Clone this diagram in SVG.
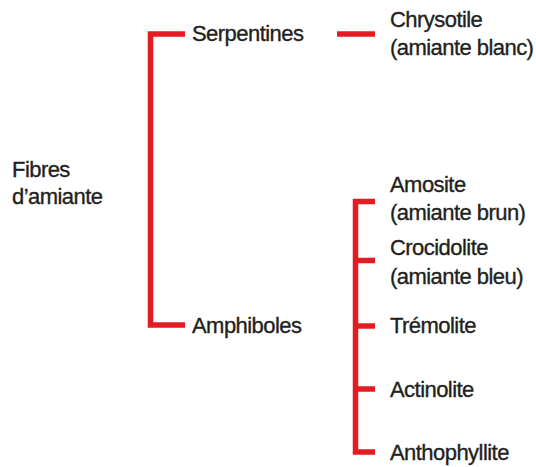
<svg xmlns="http://www.w3.org/2000/svg" width="536" height="467" viewBox="0 0 536 467">
<style>
.t{font-family:"Liberation Sans",Arial,sans-serif;font-size:22px;letter-spacing:-0.55px;fill:#231f20;stroke:#231f20;stroke-width:0.35px;}
.c{fill:none;stroke:#e31b23;stroke-width:5.5;stroke-linecap:butt;stroke-linejoin:miter;}
</style>
<rect width="536" height="467" fill="#ffffff"/>
<g id="connectors">
<path class="c" d="M185,34 H150.5 V325 H185"/>
<path class="c" d="M337,34 H375"/>
<path class="c" d="M375,201.5 H355.5 V452 H375"/>
<path class="c" d="M355.5,260.5 H375"/>
<path class="c" d="M355.5,326 H375"/>
<path class="c" d="M355.5,389 H375"/>
</g>
<g id="root"><text class="t" x="12" y="177">Fibres</text><text class="t" x="12" y="204">d’amiante</text></g>
<g id="serpentines"><text class="t" x="192" y="41">Serpentines</text></g>
<g id="amphiboles"><text class="t" x="192" y="333">Amphiboles</text></g>
<g id="chrysotile"><text class="t" x="390" y="27">Chrysotile</text><text class="t" x="390" y="55">(amiante blanc)</text></g>
<g id="amosite"><text class="t" x="390" y="192">Amosite</text><text class="t" x="390" y="220">(amiante brun)</text></g>
<g id="crocidolite"><text class="t" x="390" y="255">Crocidolite</text><text class="t" x="390" y="284">(amiante bleu)</text></g>
<g id="tremolite"><text class="t" x="390" y="333">Trémolite</text></g>
<g id="actinolite"><text class="t" x="390" y="397">Actinolite</text></g>
<g id="anthophyllite"><text class="t" x="390" y="460">Anthophyllite</text></g>
</svg>
